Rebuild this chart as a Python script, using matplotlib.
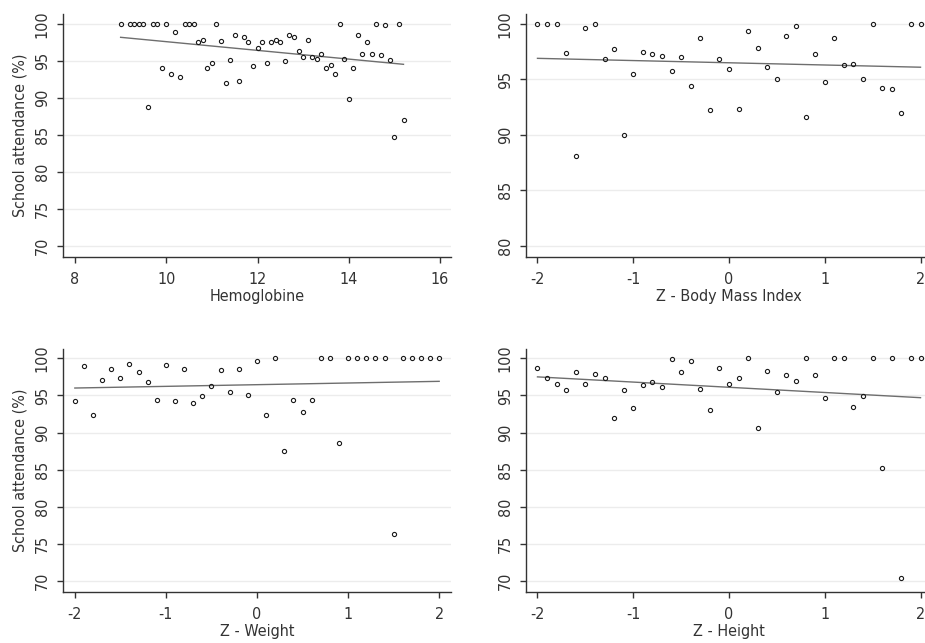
import numpy as np
import matplotlib
matplotlib.use("Agg")
import matplotlib.pyplot as plt

plt.rcParams['font.family'] = ['DejaVu Sans']
plt.rcParams['font.stretch'] = 'condensed'

# ---------------- data ----------------
hb_x = [9.0, 9.2, 9.3, 9.4, 9.5, 9.6, 9.7, 9.8, 9.9, 10.0, 10.1, 10.2, 10.3, 10.4, 10.5, 10.6,
        10.7, 10.8, 10.9, 11.0, 11.1, 11.2, 11.3, 11.4, 11.5, 11.6, 11.7, 11.8, 11.9, 12.0,
        12.1, 12.2, 12.3, 12.4, 12.5, 12.6, 12.7, 12.8, 12.9, 13.0, 13.1, 13.2, 13.3, 13.4,
        13.5, 13.6, 13.7, 13.8, 13.9, 14.0, 14.1, 14.2, 14.3, 14.4, 14.5, 14.6, 14.7, 14.8,
        14.9, 15.0, 15.1, 15.2]
hb_y = [100, 100, 100, 100, 100, 88.8, 100, 100, 94.0, 100, 93.3, 98.9, 92.8, 100, 100, 100,
        97.5, 97.9, 94.0, 94.7, 100, 97.75, 92.0, 95.1, 98.5, 92.3, 98.3, 97.5, 94.3, 96.7,
        97.5, 94.7, 97.5, 97.8, 97.5, 94.95, 98.5, 98.3, 96.3, 95.5, 97.9, 95.5, 95.3, 96.0,
        94.1, 94.5, 93.3, 100, 95.3, 89.8, 94.1, 98.5, 96.0, 97.5, 96.0, 100, 95.8, 99.9,
        95.1, 84.7, 100, 87.0]
hb_fit = [98.2, 94.55]

z_grid = [-2.0, -1.9, -1.8, -1.7, -1.6, -1.5, -1.4, -1.3, -1.2, -1.1, -1.0, -0.9, -0.8, -0.7,
          -0.6, -0.5, -0.4, -0.3, -0.2, -0.1, 0.0, 0.1, 0.2, 0.3, 0.4, 0.5, 0.6, 0.7, 0.8,
          0.9, 1.0, 1.1, 1.2, 1.3, 1.4, 1.5, 1.6, 1.7, 1.8, 1.9, 2.0]

bmi_y = [100, 100, 100, 97.4, 88.1, 99.6, 100, 96.8, 97.7, 90.0, 95.5, 97.5, 97.3, 97.15,
         95.8, 97.0, 94.4, 98.7, 92.2, 96.8, 95.95, 92.3, 99.4, 97.85, 96.15, 95.05, 98.9,
         99.8, 91.65, 97.3, 94.75, 98.7, 96.3, 96.4, 95.05, 100, 94.2, 94.1, 92.0, 100, 100]
bmi_fit = [96.9, 96.1]

wt_y = [94.3, 98.9, 92.4, 97.1, 98.6, 97.3, 99.2, 98.1, 96.8, 94.4, 99.1, 94.3, 98.6, 94.0,
        94.95, 96.3, 98.4, 95.45, 98.6, 95.1, 99.7, 92.4, 100, 87.5, 94.45, 92.8, 94.45, 100,
        100, 88.65, 100, 100, 100, 100, 100, 76.3, 100, 100, 100, 100, 100]
wt_fit = [96.0, 96.9]

ht_y = [98.75, 97.4, 96.6, 95.75, 98.1, 96.6, 97.9, 97.3, 91.95, 95.75, 93.3, 96.4, 96.8,
        96.1, 99.9, 98.1, 99.7, 95.9, 93.0, 98.75, 96.6, 97.3, 100, 90.65, 98.25, 95.45,
        97.75, 96.9, 100, 97.75, 94.65, 100, 100, 93.45, 94.95, 100, 85.25, 100, 70.45, 100, 100]
ht_fit = [97.5, 94.7]

ylabel = "School attendance (%)"

W, H = 925, 643
fig = plt.figure(figsize=(W / 100, H / 100), dpi=100)

SPINE = '#333333'
TXT = '#333333'
FS = 11.5


def make_ax(l, r, t, b, x, y, fit, xlim, ylim, xticks, yticks, xlabel, ylab):
    ax = fig.add_axes([l / W, 1 - b / H, (r - l) / W, (b - t) / H])
    ax.set_xlim(*xlim)
    ax.set_ylim(*ylim)
    for s in ['top', 'right']:
        ax.spines[s].set_visible(False)
    for s in ['left', 'bottom']:
        ax.spines[s].set_color(SPINE)
        ax.spines[s].set_linewidth(1.0)
    ax.set_xticks(xticks)
    ax.set_yticks(yticks)
    ax.set_xticklabels([f"{v:g}" for v in xticks])
    ax.set_yticklabels([f"{v:g}" for v in yticks], rotation=90, va='center')
    ax.tick_params(axis='both', direction='out', length=4.5, width=1.0, color=SPINE,
                   labelcolor=TXT, labelsize=FS)
    ax.tick_params(axis='x', pad=6)
    ax.tick_params(axis='y', pad=5)
    ax.grid(axis='y', color='#ececec', linewidth=1.0)
    ax.set_axisbelow(True)
    xs = np.asarray(x, dtype=float)
    ax.plot([xs.min(), xs.max()], fit, color='#6e6e6e', linewidth=1.0, zorder=2)
    ax.plot(xs, y, linestyle='none', marker='o', markersize=3.0, markerfacecolor='none',
            markeredgecolor='#1a1a1a', markeredgewidth=0.8, zorder=3)
    ax.set_xlabel(xlabel, fontsize=FS, color=TXT, labelpad=1.5)
    if ylab:
        ax.set_ylabel(ylab, fontsize=FS, color=TXT, labelpad=5)
    return ax


make_ax(63, 451, 14, 257, hb_x, hb_y, hb_fit, (7.737, 16.241), (68.51, 101.35),
        [8, 10, 12, 14, 16], [70, 75, 80, 85, 90, 95, 100], "Hemoglobine", ylabel)
make_ax(526, 932, 14, 257, z_grid, bmi_y, bmi_fit, (-2.12, 2.12), (78.98, 100.9),
        [-2, -1, 0, 1, 2], [80, 85, 90, 95, 100], "Z - Body Mass Index", None)
make_ax(63, 451, 349, 592, z_grid, wt_y, wt_fit, (-2.13, 2.13), (68.56, 101.25),
        [-2, -1, 0, 1, 2], [70, 75, 80, 85, 90, 95, 100], "Z - Weight", ylabel)
make_ax(526, 932, 349, 592, z_grid, ht_y, ht_fit, (-2.12, 2.12), (68.56, 101.25),
        [-2, -1, 0, 1, 2], [70, 75, 80, 85, 90, 95, 100], "Z - Height", None)

fig.savefig("out.png", dpi=100, facecolor='white')
